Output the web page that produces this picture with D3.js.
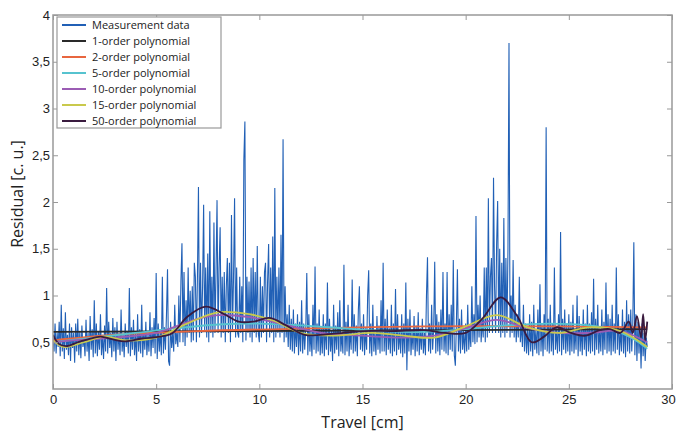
<!DOCTYPE html>
<html>
<head>
<meta charset="utf-8">
<title>Residual vs travel</title>
<script src="https://d3js.org/d3.v7.min.js"></script>
<style>
  body { margin: 0; background: #fff; }
  svg { font-family: "Open Sans", sans-serif; }
  .tick text { font-size: 13px; fill: #222; }
  .axis-label { font-size: 16px; fill: #222; }
  .legend text { font-size: 11px; fill: #222; }
</style>
</head>
<body>
<div id="chart"></div>
<script>
// measurement samples: one row per cm of travel, a sample every 0.05 cm
const measStep = 0.05;
const measurement = [
  [0.55,0.4,0.7,0.38,0.6,0.45,0.72,0.35,0.9,0.4,0.65,0.32,0.82,0.42,0.58,0.36,0.7,0.3,0.66,0.44],
  [0.6,0.28,0.7,0.4,0.75,0.36,0.62,0.33,0.68,0.45,0.55,0.35,0.74,0.4,0.6,0.3,0.78,0.42,0.64,0.34],
  [0.95,0.38,0.7,0.35,0.62,0.42,0.8,0.36,0.58,0.32,0.68,0.4,1.08,0.38,0.72,0.44,0.6,0.34,0.76,0.4],
  [0.66,0.3,0.72,0.42,0.6,0.36,0.85,0.4,0.58,0.34,0.7,0.45,0.62,0.38,1.08,0.35,0.66,0.42,0.74,0.36],
  [0.6,0.3,0.8,0.4,0.64,0.38,0.9,0.34,0.62,0.42,0.72,0.36,0.58,0.4,0.82,0.35,0.66,0.44,0.76,0.38],
  [1.24,0.32,0.7,0.4,0.62,0.36,1.2,0.38,0.66,0.42,0.8,1.28,0.3,0.25,0.72,0.44,0.6,0.4,0.9,0.48],
  [0.6,0.45,1.0,0.5,1.15,1.56,0.5,1.25,0.46,0.95,0.55,1.3,0.6,1.05,0.5,1.1,0.52,1.35,1.2,0.5],
  [1.2,2.16,0.55,1.35,0.6,1.1,1.97,0.62,1.3,0.55,1.45,0.5,1.9,0.6,1.2,0.55,1.78,0.6,1.25,2.02],
  [0.6,1.3,1.73,0.55,1.2,0.6,1.25,0.5,1.1,1.4,0.6,1.35,0.5,1.86,0.62,1.2,2.04,0.55,1.3,0.6],
  [0.55,1.2,0.6,1.1,0.5,2.45,2.86,0.52,1.2,0.6,1.15,0.55,1.3,0.5,1.4,0.6,1.25,0.55,1.53,0.6],
  [0.5,1.2,0.55,1.1,0.6,1.25,1.35,0.5,1.15,1.55,0.55,1.3,0.6,1.63,0.5,2.15,0.55,1.2,0.6,1.3],
  [0.55,1.65,0.6,2.67,0.5,1.1,0.55,0.8,0.45,0.9,0.42,0.75,0.4,0.85,0.38,0.7,0.45,0.8,0.36,0.72],
  [0.4,0.95,0.38,0.7,0.42,0.65,1.24,0.36,0.8,0.4,0.62,0.35,0.9,0.42,1.31,0.38,0.7,0.4,0.85,0.36],
  [0.65,0.38,0.8,0.35,0.7,0.42,1.14,0.36,0.75,0.4,0.62,0.3,0.9,0.38,0.68,0.42,0.82,0.35,0.95,0.4],
  [0.6,0.38,1.33,0.36,0.72,0.4,0.9,0.35,0.65,0.42,1.17,0.38,0.8,0.4,0.68,0.35,0.85,1.1,0.42,0.7],
  [0.4,0.8,0.36,0.65,0.42,1.0,1.27,0.38,0.7,0.35,0.9,0.4,0.62,0.36,0.78,0.42,0.68,0.38,0.95,0.4],
  [1.35,0.4,0.75,0.36,0.85,0.42,0.65,0.38,0.9,0.35,0.7,0.4,1.07,0.36,0.8,0.42,0.62,0.38,0.8,0.34],
  [0.7,0.38,1.14,0.2,0.75,0.4,0.85,0.36,0.62,0.42,0.78,0.35,0.68,0.4,0.82,0.36,0.65,0.42,0.75,0.38],
  [0.6,0.36,1.0,1.41,0.4,0.7,0.38,0.9,0.42,0.65,1.36,0.38,0.8,0.4,0.72,0.36,0.85,0.42,1.25,0.4],
  [0.7,0.38,1.25,0.36,0.8,0.42,0.9,0.4,1.38,0.36,0.25,0.7,1.28,0.4,0.75,0.38,0.85,0.42,0.62,0.38],
  [0.7,0.4,0.9,0.42,0.65,0.45,1.1,0.5,0.8,0.48,1.85,0.5,0.9,0.55,1.0,0.5,0.75,0.55,1.3,0.5],
  [1.3,0.55,2.04,0.6,1.2,1.4,0.6,2.26,1.1,0.6,1.55,2.01,0.6,1.5,0.55,1.35,0.6,1.83,0.55,1.4],
  [0.6,1.5,3.7,0.55,1.0,0.6,1.38,0.55,0.9,0.5,0.8,0.55,1.2,0.5,0.7,0.45,0.9,0.4,0.7,0.38],
  [0.65,0.36,0.8,0.4,0.72,0.35,0.9,0.42,0.62,0.38,0.85,0.36,1.12,0.4,0.7,0.35,0.8,0.42,2.8,0.4],
  [0.75,0.38,0.9,0.4,0.7,0.36,1.3,0.42,0.65,0.38,0.8,0.4,1.68,0.36,0.75,0.42,0.85,0.38,0.7,0.4],
  [0.8,0.36,0.72,0.4,0.9,0.38,0.65,0.42,1.0,0.35,0.78,0.4,0.68,0.36,0.85,0.42,0.7,0.35,0.9,0.4],
  [0.7,0.38,0.82,0.4,1.18,0.36,0.75,0.42,0.9,0.38,0.65,0.4,0.85,0.36,0.72,0.42,1.14,0.38,0.8,0.4],
  [0.75,0.36,0.9,0.4,0.7,0.38,1.3,0.42,0.8,0.36,0.65,0.4,0.85,0.38,0.72,0.34,0.95,0.4,0.8,0.38],
  [0.85,0.4,0.7,1.57,0.36,0.8,0.3,0.72,0.38,0.65,0.22,0.7,0.35,0.6,0.3,0.55,0.45]
];

// polynomial fits, read as [travel, residual] knots
const fit1 = [[0,0.61],[28.8,0.64]];
const fit2 = [[0,0.52],[3,0.58],[7,0.62],[13,0.65],[18,0.67],[24,0.67],[28.8,0.66]];
const fit5 = [[0,0.5],[2,0.55],[4,0.6],[6,0.65],[8,0.69],[10,0.7],[12,0.68],[14,0.65],
  [16,0.62],[18,0.61],[20,0.64],[22,0.68],[24,0.7],[26,0.68],[27,0.64],[28,0.55],[28.8,0.43]];
const fit10 = [[0,0.5],[1,0.52],[3,0.55],[5,0.6],[7,0.75],[8,0.79],[9.5,0.77],[11,0.7],
  [13,0.6],[15,0.57],[17,0.55],[18.5,0.57],[20,0.65],[21.5,0.74],[23,0.65],[24.5,0.6],
  [26,0.6],[27.5,0.62],[28.8,0.5]];
const fit15 = [[0,0.52],[0.5,0.45],[1.5,0.5],[2.5,0.56],[3.5,0.52],[5,0.55],[6.5,0.7],
  [8,0.82],[9.5,0.8],[10.7,0.73],[12,0.6],[13.5,0.57],[15.5,0.6],[17,0.57],[18.5,0.55],
  [20,0.67],[21.5,0.79],[23,0.66],[24.5,0.6],[26,0.66],[27.5,0.62],[28.8,0.45]];
const fit50 = [[0,0.58],[0.3,0.48],[0.7,0.46],[1.2,0.5],[1.7,0.53],[2.3,0.56],[2.9,0.53],
  [3.5,0.51],[4.3,0.54],[5.2,0.56],[5.8,0.6],[6.5,0.77],[7.4,0.88],[8.3,0.8],[9,0.72],
  [9.7,0.72],[10.5,0.76],[11.3,0.68],[12.2,0.58],[13.5,0.59],[15,0.62],[16.5,0.62],
  [18,0.63],[19,0.6],[20,0.6],[20.8,0.75],[21.7,0.98],[22.5,0.78],[23.2,0.5],[23.8,0.56],
  [24.4,0.66],[25.1,0.6],[25.8,0.57],[26.5,0.63],[27,0.64],[27.5,0.6],[27.9,0.72],
  [28.1,0.6],[28.3,0.78],[28.5,0.55],[28.6,0.8],[28.7,0.52],[28.8,0.72]];

const seriesNames = ["Measurement data","1-order polynomial","2-order polynomial",
  "5-order polynomial","10-order polynomial","15-order polynomial","50-order polynomial"];
const seriesColors = ["#2160b6","#2a2a2a","#e8663f","#56c3cf","#9b5cb4","#c9c94c","#3a1b3f"];

const xTicks = [0,5,10,15,20,25,30];
const yTicks = [0.5,1,1.5,2,2.5,3,3.5,4];

const width = 677, height = 434;
const margin = {left: 53, right: 5, top: 15, bottom: 45};

const svg = d3.select("#chart").append("svg")
  .attr("width", width).attr("height", height);

const x = d3.scaleLinear().domain([0,30]).range([margin.left, width - margin.right]);
const y = d3.scaleLinear().domain([0,4]).range([height - margin.bottom, margin.top]);

const fmt = d => String(d).replace(".", ",");

// clip to plot area
svg.append("defs").append("clipPath").attr("id", "plot")
  .append("rect").attr("x", x(0)).attr("y", y(4))
  .attr("width", x(30) - x(0)).attr("height", y(0) - y(4));

const plot = svg.append("g").attr("clip-path", "url(#plot)");

const line = d3.line().x(d => x(d[0])).y(d => y(d[1]));
const smooth = d3.line().x(d => x(d[0])).y(d => y(d[1])).curve(d3.curveCatmullRom);

const measPts = measurement.flatMap((row, cm) => row.map((v, j) => [cm + j * measStep, v]));
plot.append("path").datum(measPts)
  .attr("d", line).attr("fill", "none")
  .attr("stroke", seriesColors[0]).attr("stroke-width", 1.1);

const fits = [fit1, fit2, fit5, fit10, fit15, fit50];
fits.forEach((f, i) => {
  plot.append("path").datum(f)
    .attr("d", smooth).attr("fill", "none")
    .attr("stroke", seriesColors[i + 1]).attr("stroke-width", 1.8);
});

// axes, ticks pointing inward on all four sides
const axisColor = "#999";
const gx = svg.append("g").attr("transform", `translate(0,${y(0)})`)
  .call(d3.axisBottom(x).tickValues(xTicks).tickSizeInner(-5).tickSizeOuter(0).tickPadding(6).tickFormat(fmt));
const gy = svg.append("g").attr("transform", `translate(${x(0)},0)`)
  .call(d3.axisLeft(y).tickValues(yTicks).tickSizeInner(-5).tickSizeOuter(0).tickPadding(3).tickFormat(fmt));
const gt = svg.append("g").attr("transform", `translate(0,${y(4)})`)
  .call(d3.axisTop(x).tickValues(xTicks).tickSizeInner(-5).tickSizeOuter(0).tickFormat(""));
const gr = svg.append("g").attr("transform", `translate(${x(30)},0)`)
  .call(d3.axisRight(y).tickValues(yTicks).tickSizeInner(-5).tickSizeOuter(0).tickFormat(""));
[gx, gy, gt, gr].forEach(g => {
  g.select(".domain").remove();
  g.selectAll(".tick line").attr("stroke", axisColor);
  g.selectAll(".tick text").attr("font-family", null).attr("font-size", null);
});
// keep the last x label inside the window
gx.selectAll(".tick text").filter(d => d === 30).attr("dx", "-4");

svg.append("rect")
  .attr("x", x(0)).attr("y", y(4))
  .attr("width", x(30) - x(0)).attr("height", y(0) - y(4))
  .attr("fill", "none").attr("stroke", axisColor).attr("stroke-width", 1.5);

svg.append("text").attr("class", "axis-label")
  .attr("x", (x(0) + x(30)) / 2).attr("y", 428)
  .attr("text-anchor", "middle").text("Travel [cm]");
svg.append("text").attr("class", "axis-label")
  .attr("transform", `translate(23,${(y(0) + y(4)) / 2 - 8}) rotate(-90)`)
  .attr("text-anchor", "middle").text("Residual [c. u.]");

// legend
const legend = svg.append("g").attr("class", "legend").attr("transform", "translate(57,17)");
legend.append("rect").attr("width", 164).attr("height", 111)
  .attr("fill", "#fff").attr("stroke", axisColor).attr("stroke-width", 1.2);
seriesNames.forEach((name, i) => {
  const row = legend.append("g").attr("transform", `translate(0,${8 + i * 16})`);
  row.append("line").attr("x1", 5).attr("x2", 29)
    .attr("stroke", seriesColors[i]).attr("stroke-width", 2);
  row.append("text").attr("x", 35).attr("dy", "0.35em").text(name);
});
</script>
</body>
</html>
